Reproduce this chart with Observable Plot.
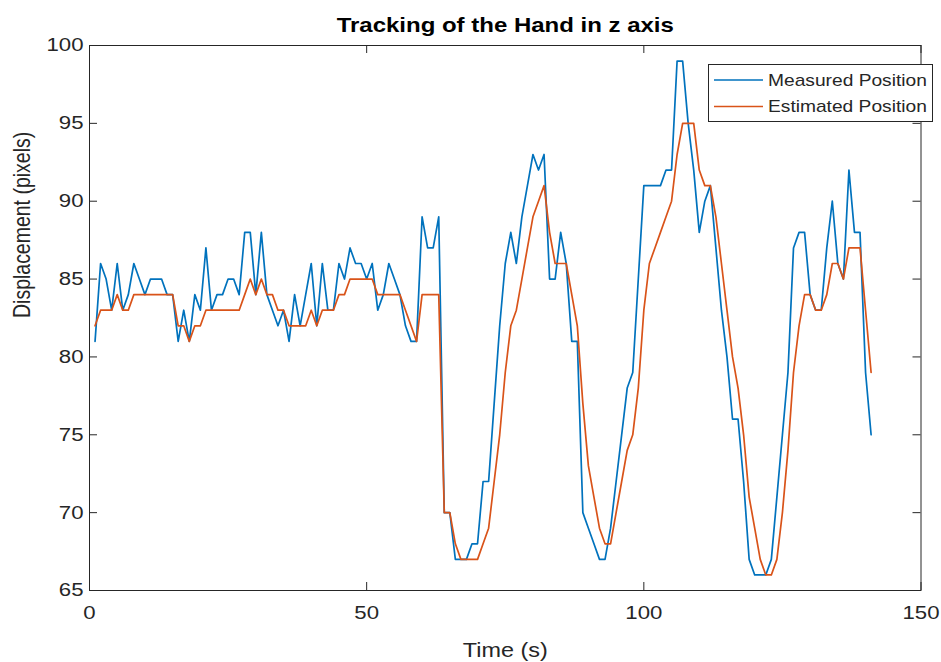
<!DOCTYPE html>
<html>
<head>
<meta charset="utf-8">
<script src="https://cdn.jsdelivr.net/npm/d3@7"></script>
<script src="https://cdn.jsdelivr.net/npm/@observablehq/plot@0.6"></script>
<style>
  html, body { margin: 0; padding: 0; background: #fff; }
  #chart { position: relative; width: 941px; height: 662px; }
</style>
</head>
<body>
<div id="chart"></div>
<script>
// ---- data ----
const time = d3.range(1, 142);
const measured = [
  81,86,85,83,86,83,84,86,85,84,
  85,85,85,84,84,81,83,81,84,83,
  87,83,84,84,85,85,84,88,88,84,
  88,84,83,82,83,81,84,82,84,86,
  82,86,83,83,86,85,87,86,86,85,
  86,83,84,86,85,84,82,81,81,89,
  87,87,89,70,70,67,67,67,68,68,
  72,72,77,82,86,88,86,89,91,93,
  92,93,85,85,88,86,81,81,70,69,
  68,67,67,69,72,75,78,79,85,91,
  91,91,91,92,92,99,99,95,92,88,
  90,91,87,83,80,76,76,72,67,66,
  66,66,67,71,75,79,87,88,88,84,
  83,83,87,90,86,85,92,88,88,79,
  75
];
const estimated = [
  82,83,83,83,84,83,83,84,84,84,
  84,84,84,84,84,82,82,81,82,82,
  83,83,83,83,83,83,83,84,85,84,
  85,84,84,83,83,82,82,82,82,83,
  82,83,83,83,84,84,85,85,85,85,
  85,84,84,84,84,84,83,82,81,84,
  84,84,84,70,70,68,67,67,67,67,
  68,69,72,75,79,82,83,85,87,89,
  90,91,88,86,86,86,84,82,77,73,
  71,69,68,68,70,72,74,75,78,83,
  86,87,88,89,90,93,95,95,95,92,
  91,91,89,86,83,80,78,75,71,69,
  67,66,66,67,70,74,79,82,84,84,
  83,83,84,86,86,85,87,87,87,83,
  79
];
const xTicks = [0, 50, 100, 150];
const yTicks = [65, 70, 75, 80, 85, 90, 95, 100];
const seriesNames = ["Measured Position", "Estimated Position"];
const titleText = "Tracking of the Hand in z axis";
const xLabel = "Time (s)";
const yLabel = "Displacement (pixels)";

const rows = time.map((t, i) => ({t, measured: measured[i], estimated: estimated[i]}));

// ---- layout / style ----
const W = 941, H = 662;
const mL = 89, mR = 20.5, mT = 45, mB = 72;
const innerW = W - mL - mR, innerH = H - mT - mB;
const TICK = 8;
const AX = "#262626";
const BLUE = "#0072BD", ORANGE = "#D95319";
const SX = 1.2; // horizontal stretch of the reference text
const FONT = "'Liberation Sans', Arial, Helvetica, sans-serif";

const svg = Plot.plot({
  width: W, height: H,
  marginLeft: mL, marginRight: mR, marginTop: mT, marginBottom: mB,
  style: {fontFamily: FONT, background: "#fff", overflow: "visible", color: AX},
  x: {domain: [0, 150]},
  y: {domain: [65, 100]},
  marks: [
    Plot.line(rows, {x: "t", y: "measured", stroke: BLUE, strokeWidth: 1.7}),
    Plot.line(rows, {x: "t", y: "estimated", stroke: ORANGE, strokeWidth: 1.7}),
    Plot.frame({stroke: AX, strokeWidth: 1}),
    Plot.tickX(xTicks, {x: d => d, insetTop: innerH - TICK, stroke: AX}),
    Plot.tickX(xTicks, {x: d => d, insetBottom: innerH - TICK, stroke: AX}),
    Plot.tickY(yTicks, {y: d => d, insetRight: innerW - TICK, stroke: AX}),
    Plot.tickY(yTicks, {y: d => d, insetLeft: innerW - TICK, stroke: AX}),
    Plot.axisX({ticks: xTicks, tickSize: 0, tickPadding: 15, fontSize: 18.5, fill: AX, label: null}),
    Plot.axisY({ticks: yTicks, tickSize: 0, tickPadding: 6, fontSize: 18.5, fill: AX, label: null}),
    Plot.text([xLabel], {frameAnchor: "bottom", lineAnchor: "middle", dy: 60, fontSize: 19.5, fill: AX}),
    Plot.text([yLabel], {frameAnchor: "left", lineAnchor: "middle", dx: -67, rotate: -90, fontSize: 19.5, fill: AX}),
    Plot.text([titleText], {frameAnchor: "top", lineAnchor: "middle", dy: -20, fontSize: 20, fontWeight: "bold", fill: "#000"})
  ]
});

// stretch every text horizontally around its anchor, like the reference
d3.select(svg).selectAll("text").each(function() {
  const t = this.getAttribute("transform");
  if (t && /^translate\([^)]*\)/.test(t)) {
    this.setAttribute("transform", t.replace(/^(translate\([^)]*\))/, `$1 scale(${SX},1)`));
  } else if (!t) {
    const x = +this.getAttribute("x") || 0, y = +this.getAttribute("y") || 0;
    this.removeAttribute("x"); this.removeAttribute("y");
    this.setAttribute("transform", `translate(${x},${y}) scale(${SX},1)`);
  }
});

// legend
const lg = d3.select(svg).append("g").attr("font-family", FONT).attr("text-anchor", "start");
lg.append("rect").attr("x", 708.5).attr("y", 64.5).attr("width", 224).attr("height", 57)
  .attr("fill", "#fff").attr("stroke", AX).attr("stroke-width", 1);
[[BLUE, 80], [ORANGE, 106.5]].forEach(([c, y], i) => {
  lg.append("line").attr("x1", 714).attr("x2", 763).attr("y1", y).attr("y2", y)
    .attr("stroke", c).attr("stroke-width", 1.6);
  lg.append("text").attr("transform", `translate(768,${y}) scale(${SX},1)`)
    .attr("text-anchor", "start").attr("dy", "0.35em").attr("font-size", 16).attr("fill", AX)
    .text(seriesNames[i]);
});

document.getElementById("chart").appendChild(svg);
</script>
</body>
</html>
